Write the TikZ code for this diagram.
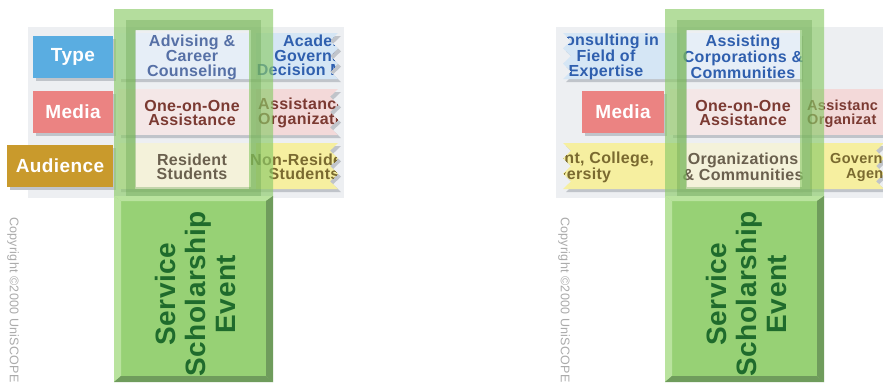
\documentclass[tikz,border=0pt]{standalone}
\usepackage{fontspec}
\setmainfont[LetterSpace=2]{Liberation Sans}
\definecolor{typeblue}{HTML}{5AADE1}
\definecolor{medred}{HTML}{EB8382}
\definecolor{audgold}{HTML}{C99A2C}
\definecolor{typecell}{HTML}{D5E6F5}
\definecolor{typemid}{HTML}{E6EEF7}
\definecolor{medcell}{HTML}{F3D9D9}
\definecolor{medmid}{HTML}{F4E7E7}
\definecolor{audcell}{HTML}{F6EFA0}
\definecolor{audmid}{HTML}{F4F2DA}
\definecolor{backdrop}{HTML}{EDEFF2}
\definecolor{shadowgrey}{HTML}{C0C4CA}
\definecolor{gframe}{HTML}{8CCB69}
\definecolor{gstripe}{HTML}{5E9A48}
\definecolor{gmain}{HTML}{97D175}
\definecolor{glight}{HTML}{B9E39E}
\definecolor{gdark}{HTML}{6F9C5C}
\definecolor{typetxt}{HTML}{5670A6}
\definecolor{typetxtb}{HTML}{2F5FAE}
\definecolor{medtxt}{HTML}{7B3A32}
\definecolor{audtxt}{HTML}{6A604E}
\definecolor{audtxtb}{HTML}{7A6A30}
\definecolor{svcgreen}{HTML}{1F6B2C}
\definecolor{copygrey}{HTML}{ABABAB}
\newcommand\zigR[3]{(#1,#2) -- (#3,#2) -- ++(-8,7.667) -- ++(8,7.667) -- ++(-8,7.667) -- ++(8,7.667) -- ++(-8,7.667) -- ++(8,7.667) -- (#1,#2+46) -- cycle}
\newcommand\zigL[3]{(#1,#2) -- ++(8,7.667) -- ++(-8,7.667) -- ++(8,7.667) -- ++(-8,7.667) -- ++(8,7.667) -- ++(-8,7.667) -- (#3,#2+46) -- (#3,#2) -- cycle}
\tikzset{
  lbl/.style={font=\fontsize{19}{20}\selectfont\bfseries, text=white, inner sep=0, minimum height=42},
  celltxt/.style={font=\fontsize{16}{14.5}\selectfont\bfseries, align=center, inner sep=0},
  celltxtl/.style={font=\fontsize{16}{14.5}\selectfont\bfseries, align=left, inner sep=0, anchor=west},
  edgetxt/.style={font=\fontsize{14.5}{14.5}\selectfont\bfseries, inner sep=0, anchor=base west},
  svc/.style={font=\fontsize{28}{30}\selectfont\bfseries, text=svcgreen, align=center, inner sep=0, rotate=90},
  copy/.style={font=\fontsize{12.5}{13}\selectfont, text=copygrey, inner sep=0, rotate=-90, anchor=west},
  shd/.style={fill=shadowgrey, shift={(3,3)}},
  frameup/.style={fill=gframe, opacity=.65, even odd rule},
  stripe/.style={draw=gstripe, draw opacity=.32, line width=10},
}
\begin{document}
\begin{tikzpicture}[x=1pt,y=-1pt]
\useasboundingbox (0,0) rectangle (883,384);
\clip (0,0) rectangle (883,384);
\fill[white] (0,0) rectangle (883,384);
% ================= LEFT PANEL =================
\fill[backdrop] (28,27) rectangle (344,198);
\foreach \yy/\cm/\cr in {33/typemid/typecell,89/medmid/medcell,143/audmid/audcell}{
  \fill[shd] \zigR{118}{\yy}{338};
  \fill[\cr] \zigR{240}{\yy}{338};
  \fill[\cm] (118,\yy) rectangle (256,\yy+46);
}
\begin{scope}
  \clip \zigR{240}{33}{338};
  \node[celltxt, text=typetxtb] (acadL) at (322,57) {Academic\\Governance\\Decision Making};
\end{scope}
\begin{scope}
  \clip \zigR{240}{89}{338};
  \node[celltxtl, text=medtxt] (assiL) at (258,113) {Assistance\\Organizations};
\end{scope}
\begin{scope}
  \clip \zigR{240}{143}{338};
  \node[celltxt, text=audtxtb] (nonrL) at (304,167) {Non-Resident\\Students};
\end{scope}
\node[celltxt, text=typetxt] (advL) at (192,57) {Advising \&\\Career\\Counseling};
\node[celltxt, text=medtxt] (oneL) at (192,113) {One-on-One\\Assistance};
\node[celltxt, text=audtxt] (resL) at (192,167) {Resident\\Students};
% labels
\fill[shadowgrey] (36,39) rectangle (116,81);
\node[lbl, fill=typeblue, minimum width=80] (typeL) at (73,57) {Type};
\fill[shadowgrey] (36,94) rectangle (116,136);
\node[lbl, fill=medred, minimum width=80] (mediaL) at (73,112) {Media};
\fill[shadowgrey] (10,148) rectangle (116,190);
\node[lbl, fill=audgold, minimum width=106] (audL) at (60,166) {Audience};
% green column
\fill[frameup] (114,9) rectangle (273,196) (135,30) rectangle (249,189);
\draw[stripe] (130.5,25) rectangle (255.5,192);
\fill[gmain] (114,196) rectangle (273,382);
\fill[glight] (114,196) -- (273,196) -- (266,201) -- (121,201) -- cycle;
\fill[glight] (114,196) -- (121,201) -- (121,376) -- (114,382) -- cycle;
\fill[gdark] (273,196) -- (266,201) -- (266,376) -- (273,382) -- cycle;
\fill[gdark] (114,382) -- (121,376) -- (266,376) -- (273,382) -- cycle;
\node[svc] (svcL) at (195,294) {Service\\Scholarship\\Event};
\node[copy] (copyL) at (13,217) {Copyright \textcopyright2000 UniSCOPE};
% ================= RIGHT PANEL =================
\fill[backdrop] (556,27) rectangle (883,198);
% type row
\fill[shd] \zigL{563}{33}{800};
\fill[typecell] \zigL{563}{33}{700};
\fill[typemid] (680,33) rectangle (802,79);
\begin{scope}
  \clip \zigL{563}{33}{700};
  \node[celltxt, text=typetxtb] (consR) at (606,57) {Consulting in\\Field of\\Expertise};
\end{scope}
% media row
\fill[shd] (670,89) rectangle (895,135);
\fill[medcell] (790,89) rectangle (895,135);
\fill[medmid] (670,89) rectangle (810,135);
\node[edgetxt, text=medtxt] (assiR) at (807,110) {Assistanc};
\node[edgetxt, text=medtxt] (orgaR) at (807,124.5) {Organizat};
% audience row
\fill[shd] \zigL{563}{143}{800};
\fill[shd] \zigR{790}{143}{884};
\fill[audcell] \zigL{563}{143}{700};
\fill[audcell] \zigR{790}{143}{884};
\fill[audmid] (680,143) rectangle (810,189);
\begin{scope}
  \clip \zigL{563}{143}{700};
  \node[celltxt, text=audtxtb] (deptR) at (571,167) {Department, College,\\University};
\end{scope}
\node[edgetxt, text=audtxtb] (govR) at (830,163.5) {Govern};
\node[edgetxt, text=audtxtb] (ageR) at (846,178) {Agen};
% middle texts
\node[celltxt, text=typetxtb] (asscR) at (743,57) {Assisting\\Corporations \&\\Communities};
\node[celltxt, text=medtxt] (oneR) at (743,113) {One-on-One\\Assistance};
\node[celltxt, text=audtxt] (orgR) at (743,167) {Organizations\\\& Communities};
% media label
\fill[shadowgrey] (585,94) rectangle (667,136);
\node[lbl, fill=medred, minimum width=82] (mediaR) at (623,112) {Media};
% green column
\fill[frameup] (665,9) rectangle (824,196) (686,30) rectangle (800,189);
\draw[stripe] (681.5,25) rectangle (806.5,192);
\fill[gmain] (665,196) rectangle (824,382);
\fill[glight] (665,196) -- (824,196) -- (817,201) -- (672,201) -- cycle;
\fill[glight] (665,196) -- (672,201) -- (672,376) -- (665,382) -- cycle;
\fill[gdark] (824,196) -- (817,201) -- (817,376) -- (824,382) -- cycle;
\fill[gdark] (665,382) -- (672,376) -- (817,376) -- (824,382) -- cycle;
\node[svc] (svcR) at (746,294) {Service\\Scholarship\\Event};
\node[copy] (copyR) at (564,217) {Copyright \textcopyright2000 UniSCOPE};
\end{tikzpicture}
\end{document}
